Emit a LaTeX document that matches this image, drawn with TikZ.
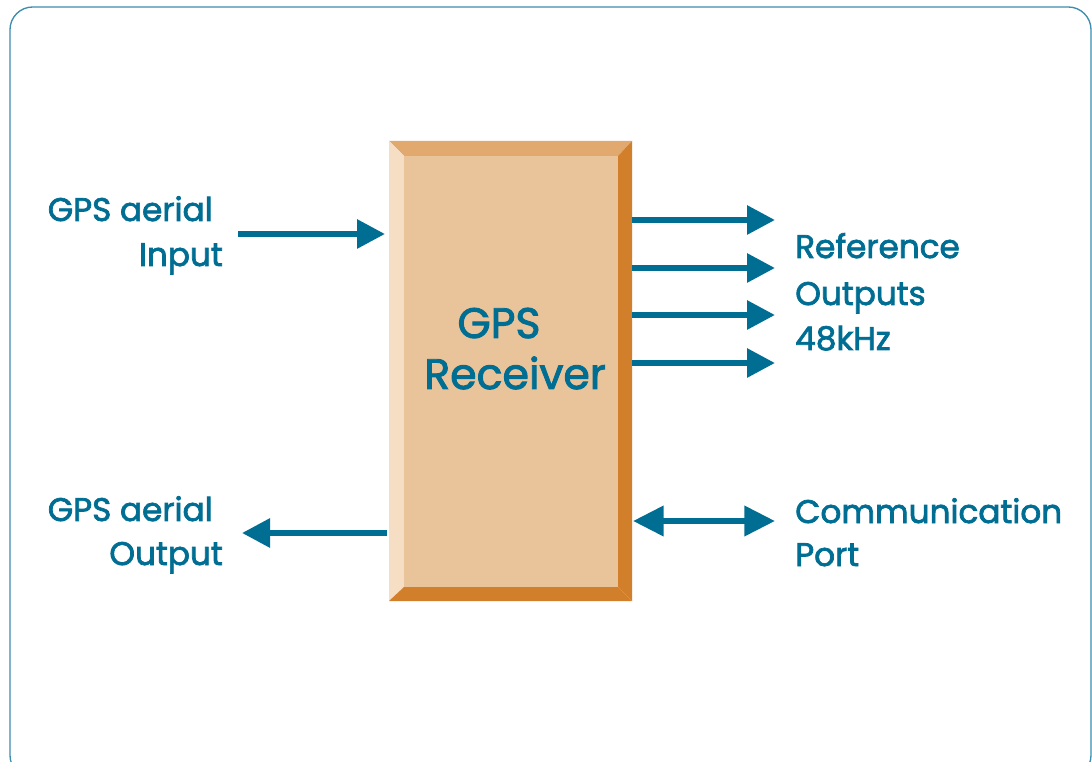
\documentclass[tikz,border=0pt]{standalone}
\usepackage{fontspec}
\setmainfont{Poppins}[FakeBold=2.2]
\usetikzlibrary{arrows.meta}

\definecolor{gpsteal}{HTML}{006E93}
\definecolor{framecol}{HTML}{3D8DAE}
\definecolor{boxface}{HTML}{E9C49A}
\definecolor{boxtop}{HTML}{E2A96E}
\definecolor{boxlight}{HTML}{F6DEC4}
\definecolor{boxdark}{HTML}{D27F2B}

\tikzset{
  lbl/.style={text=gpsteal, inner sep=0pt, font=\fontsize{24.5}{30}\selectfont},
  title/.style={text=gpsteal, inner sep=0pt, font=\fontsize{32}{38}\selectfont},
  sig/.style={draw=gpsteal, line width=4.5pt, -{Triangle[length=21pt,width=21pt]}},
  bisig/.style={draw=gpsteal, line width=4.5pt, {Triangle[length=23pt,width=22pt]}-{Triangle[length=23pt,width=22pt]}},
}

\begin{document}
\begin{tikzpicture}[x=0.75pt,y=-0.75pt]
    \useasboundingbox (0,0) rectangle (1092,762);
    \fill[white] (0,0) rectangle (1092,762);
    \draw[framecol, line width=1pt, rounded corners=17pt] (10,7) rectangle (1091,778);

    % receiver box with bevelled edges
    \coordinate (A) at (389,141);
    \coordinate (B) at (632,141);
    \coordinate (C) at (632,601);
    \coordinate (D) at (389,601);
    \coordinate (a) at (404,156);
    \coordinate (b) at (618,156);
    \coordinate (c) at (618,587);
    \coordinate (d) at (404,587);
    \fill[boxtop] (A) -- (B) -- (b) -- (a) -- cycle;
    \fill[boxlight] (A) -- (a) -- (d) -- (D) -- cycle;
    \fill[boxdark] (B) -- (C) -- (c) -- (b) -- cycle;
    \fill[boxdark] (D) -- (d) -- (c) -- (C) -- cycle;
    \fill[boxface] (a) -- (b) -- (c) -- (d) -- cycle;

    \node[title, anchor=base] (rcvA) at (499,338) {GPS};
    \node[title, anchor=base] (rcvB) at (515,389) {Receiver};

    % left side
    \node[lbl, anchor=base east] (inA) at (213,221) {GPS aerial};
    \node[lbl, anchor=base east] (inB) at (223,266) {Input};
    \node[lbl, anchor=base east] (outA) at (213,521) {GPS aerial};
    \node[lbl, anchor=base east] (outB) at (223,565) {Output};

    % right side
    \node[lbl, anchor=base west] (refA) at (795,258) {Reference};
    \node[lbl, anchor=base west] (refB) at (795,305) {Outputs};
    \node[lbl, anchor=base west] (refC) at (795,350) {48kHz};
    \node[lbl, anchor=base west] (comA) at (795,523) {Communication};
    \node[lbl, anchor=base west] (comB) at (795,566) {Port};

    % connector ends
    \coordinate (inS) at (238,234);
    \coordinate (inE) at (385,234);
    \coordinate (outS) at (387,533);
    \coordinate (outE) at (242,533);
    \coordinate (comS) at (633,521);
    \coordinate (comE) at (775,521);

    \draw[sig] (inS) -- (inE);
    \draw[sig] (outS) -- (outE);
    \foreach \i/\y in {1/220,2/268,3/315,4/363} {
        \coordinate (r\i S) at (632,\y);
        \coordinate (r\i E) at (775,\y);
        \draw[sig] (r\i S) -- (r\i E);
    }
    \draw[bisig] (comS) -- (comE);
\end{tikzpicture}
\end{document}
